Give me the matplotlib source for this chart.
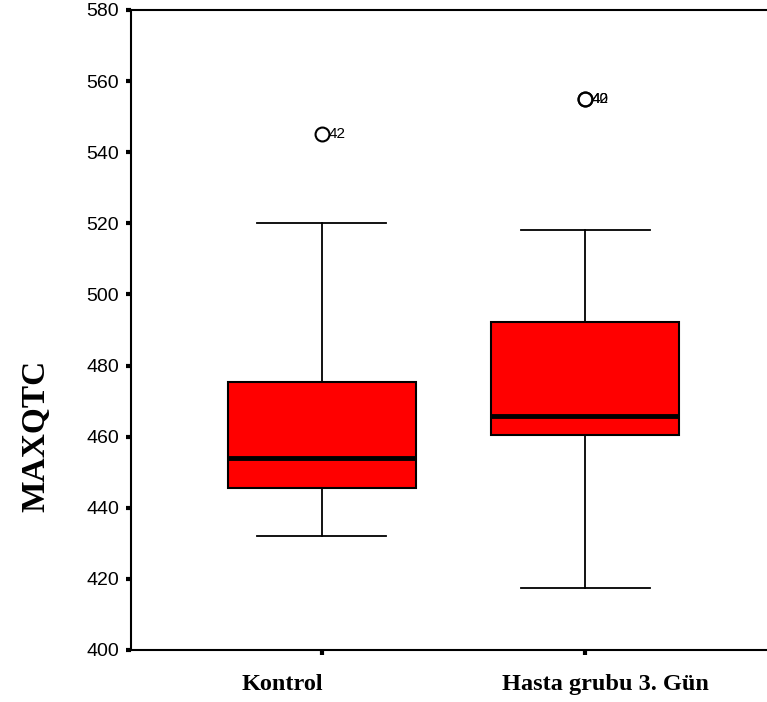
import numpy as np
import matplotlib.pyplot as plt

groups = ['Kontrol', 'Hasta grubu 3. Gün']
q1 = [445.5, 460.5]
median = [454.0, 465.7]
q3 = [475.3, 492.2]
whisker_lo = [432.0, 417.5]
whisker_hi = [520.0, 518.0]
outliers = [[545.0], [555.0, 555.0]]
outlier_ids = [['42'], ['42', '40']]
yticks = np.arange(400, 581, 20)

fig = plt.figure(figsize=(7.67, 7.02), dpi=100)
ax = fig.add_axes([130.7 / 767, 52 / 702, 1 - 130.7 / 767, 640 / 702])

stats = []
for i, g in enumerate(groups):
    stats.append(dict(label=g, q1=q1[i], med=median[i], q3=q3[i],
                      whislo=whisker_lo[i], whishi=whisker_hi[i],
                      fliers=outliers[i]))
pos = np.arange(1, len(groups) + 1)

ax.bxp(stats, positions=pos, widths=0.714, capwidths=0.49,
       patch_artist=True, manage_ticks=False,
       boxprops=dict(facecolor='#ff0000', edgecolor='black', linewidth=1.5),
       medianprops=dict(color='black', linewidth=3.5, solid_capstyle='butt'),
       whiskerprops=dict(color='black', linewidth=1.3),
       capprops=dict(color='black', linewidth=1.3),
       flierprops=dict(marker='o', markersize=10, markerfacecolor='none',
                       markeredgecolor='black', markeredgewidth=1.5))

# case numbers next to the outliers
for i, vals in enumerate(outliers):
    for v, cid in zip(vals, outlier_ids[i]):
        ax.annotate(cid, (pos[i], v), xytext=(5, 0), textcoords='offset points',
                    ha='left', va='center', fontsize=11,
                    family='Liberation Sans')

ax.set_xlim(0.2746, 2.691)
ax.set_ylim(400, 580)
ax.set_yticks(yticks)
ax.set_yticklabels([str(t) for t in yticks], fontsize=14,
                   family='Liberation Sans')
ax.set_xticks(pos)
ax.set_xticklabels([])

# category labels, set a little off their ticks
shifts = [-39, 20]  # px
for p, g, dx in zip(pos, groups, shifts):
    ax.annotate(g, (p, 0), xycoords=('data', 'axes fraction'),
                xytext=(dx * 0.72, -17), textcoords='offset points',
                ha='center', va='top', fontsize=17.5, fontweight='bold',
                family='Liberation Serif')

ax.tick_params(axis='y', direction='out', length=3.5, width=3, pad=5)
ax.tick_params(axis='x', direction='out', length=3.5, width=3)
ax.spines['right'].set_visible(False)
for s in ['left', 'top', 'bottom']:
    ax.spines[s].set_linewidth(1.5)

ax.set_ylabel('MAXQTC', fontsize=24, fontweight='bold',
              family='Liberation Serif')
ax.yaxis.set_label_coords(-0.125, 0.334)

fig.savefig('out.png', dpi=100)
